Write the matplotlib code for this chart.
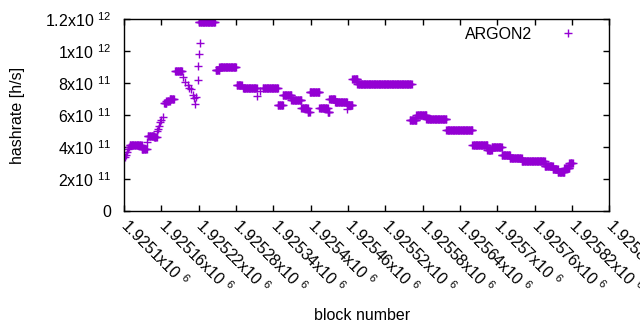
import numpy as np
import matplotlib
matplotlib.use("Agg")
import matplotlib.pyplot as plt
from matplotlib.ticker import MultipleLocator, FuncFormatter

plt.rcParams['font.family'] = ['Liberation Sans', 'DejaVu Sans']
plt.rcParams['mathtext.fontset'] = 'custom'
plt.rcParams['mathtext.rm'] = 'Liberation Sans'
plt.rcParams['mathtext.it'] = 'Liberation Sans:italic'

# runs of blocks with the same estimated hashrate (first block, last block, h/s)
run_start = [1925109, 1925128, 1925138, 1925148, 1925164, 1925168, 1925173,
             1925182, 1925220, 1925247, 1925253, 1925281, 1925291, 1925323,
             1925347, 1925355, 1925369, 1925385, 1925395, 1925398, 1925414,
             1925427, 1925430, 1925439, 1925459, 1925467, 1925475, 1925559,
             1925570, 1925586, 1925618, 1925660, 1925684, 1925691, 1925707,
             1925720, 1925739, 1925776, 1925789, 1925797, 1925808, 1925816]
run_end = [1925128, 1925136, 1925148, 1925152, 1925168, 1925173, 1925180,
           1925193, 1925246, 1925253, 1925280, 1925289, 1925313, 1925347,
           1925355, 1925369, 1925385, 1925395, 1925398, 1925414, 1925427,
           1925430, 1925439, 1925458, 1925467, 1925475, 1925562, 1925570,
           1925586, 1925618, 1925660, 1925684, 1925691, 1925707, 1925720,
           1925739, 1925776, 1925789, 1925797, 1925808, 1925816, 1925821]
run_rate = [4.10e11, 3.85e11, 4.70e11, 4.62e11, 6.75e11, 6.90e11, 7.02e11,
            8.75e11, 1.18e12, 8.80e11, 9.00e11, 7.90e11, 7.70e11, 7.70e11,
            6.60e11, 7.25e11, 6.95e11, 6.42e11, 6.20e11, 7.45e11, 6.45e11,
            6.20e11, 7.00e11, 6.80e11, 6.60e11, 8.25e11, 7.92e11, 5.70e11,
            6.00e11, 5.75e11, 5.03e11, 4.14e11, 3.80e11, 4.00e11, 3.50e11,
            3.30e11, 3.10e11, 2.80e11, 2.62e11, 2.45e11, 2.70e11, 3.00e11]

# single blocks outside the runs
pt_block = [1925101, 1925103, 1925104, 1925106, 1925108, 1925137, 1925153,
            1925155, 1925156, 1925158, 1925160, 1925162, 1925195, 1925198,
            1925202, 1925204, 1925207, 1925210, 1925212, 1925214, 1925216,
            1925218, 1925219, 1925220, 1925222, 1925313, 1925318, 1925458]
pt_rate = [3.35e11, 3.50e11, 3.70e11, 3.90e11, 4.00e11, 4.30e11, 5.00e11,
           5.15e11, 5.30e11, 5.55e11, 5.70e11, 5.85e11, 8.40e11, 8.10e11,
           7.90e11, 7.70e11, 7.60e11, 7.25e11, 7.05e11, 6.70e11, 7.15e11,
           8.20e11, 9.10e11, 9.80e11, 1.05e12, 7.20e11, 7.50e11, 6.35e11]

blocks = list(pt_block)
rates = list(pt_rate)
for s, e, r in zip(run_start, run_end, run_rate):
    for b in range(s, e + 1):
        blocks.append(b)
        rates.append(r)

fs = 11.5

fig = plt.figure(figsize=(6.4, 3.3), dpi=100)
ax = fig.add_axes([0.194, 0.3615, 0.758, 0.58])

ax.plot(blocks, rates, linestyle='none', marker='+', color='#9400D3',
        markersize=6, markeredgewidth=1.0, label='ARGON2')

ax.set_xlim(1925100, 1925880)
ax.set_ylim(0, 1.2e12)
ax.xaxis.set_major_locator(MultipleLocator(60))
ax.yaxis.set_major_locator(MultipleLocator(2e11))


def xfmt(v, pos):
    return '%gx10 $^{6}$' % round(v / 1e6, 6)


def yfmt(v, pos):
    if v <= 0:
        return '0' if abs(v) < 1 else ''
    exp = int(np.floor(np.log10(v) + 1e-9))
    return '%gx10 $^{%d}$' % (round(v / 10 ** exp, 3), exp)


ax.xaxis.set_major_formatter(FuncFormatter(xfmt))
ax.yaxis.set_major_formatter(FuncFormatter(yfmt))
ax.tick_params(direction='in', length=4, width=1, top=True, right=True,
               labelsize=fs, colors='black')
ax.tick_params(axis='x', pad=8)
ax.tick_params(axis='y', pad=9)
for sp in ax.spines.values():
    sp.set_linewidth(1)

ax.set_xlabel('block number', fontsize=fs)
ax.set_ylabel('hashrate [h/s]', fontsize=fs)
ax.xaxis.set_label_coords(0.49, -0.51)
ax.yaxis.set_label_coords(-0.205, 0.5)
ax.legend(loc='upper right', bbox_to_anchor=(0.975, 0.995), borderaxespad=0,
          frameon=False, fontsize=fs, markerfirst=False,
          handlelength=2.9, handletextpad=0.8)

fig.canvas.draw()
for lab in ax.get_xticklabels():
    lab.set_rotation(-45)
    lab.set_ha('left')
    lab.set_va('center')
    lab.set_rotation_mode('anchor')

fig.savefig('out.png', dpi=100)
